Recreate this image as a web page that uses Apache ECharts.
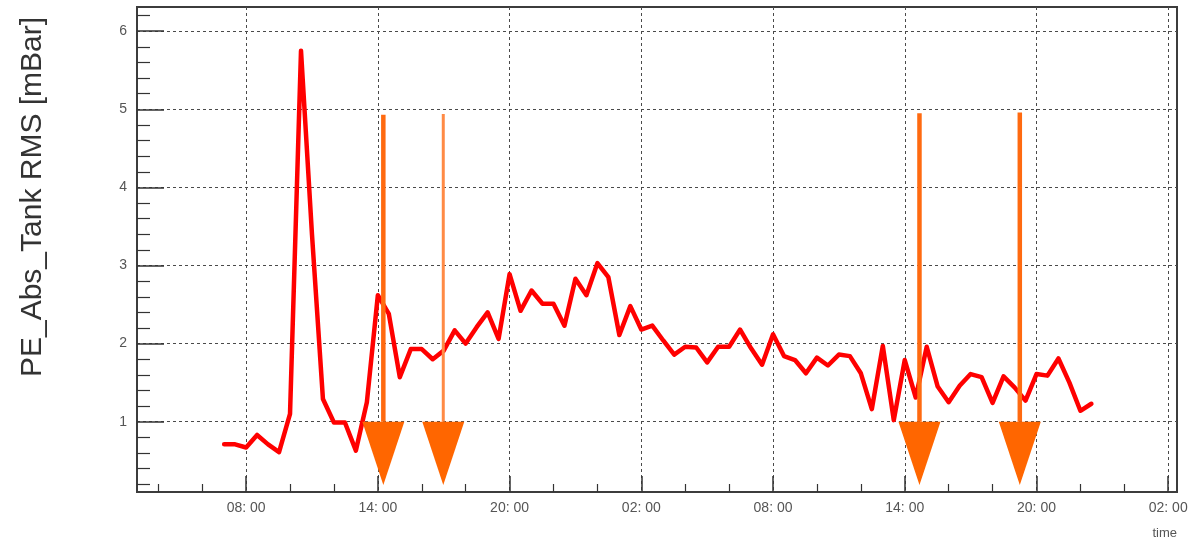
<!DOCTYPE html>
<html>
<head>
<meta charset="utf-8">
<script src="https://cdn.jsdelivr.net/npm/echarts@6/dist/echarts.min.js"></script>
<style>
html,body{margin:0;padding:0;background:#fff;}
#chart{width:1195px;height:546px;}
</style>
</head>
<body>
<div id="chart"></div>
<script>
// ---- data (hours since 00:00 of first day) ----
const timeHours = [
  7.0, 7.5, 8.0, 8.5, 9.0, 9.5, 10.0, 10.5, 11.0, 11.5,
  12.0, 12.5, 13.0, 13.5, 14.0, 14.5, 15.0, 15.5, 16.0, 16.5,
  17.0, 17.5, 18.0, 18.5, 19.0, 19.5, 20.0, 20.5, 21.0, 21.5,
  22.0, 22.5, 23.0, 23.5, 24.0, 24.5, 25.0, 25.5, 26.0, 26.5,
  27.0, 27.5, 28.0, 28.5, 29.0, 29.5, 30.0, 30.5, 31.0, 31.5,
  32.0, 32.5, 33.0, 33.5, 34.0, 34.5, 35.0, 35.5, 36.0, 36.5,
  37.0, 37.5, 38.0, 38.5, 39.0, 39.5, 40.0, 40.5, 41.0, 41.5,
  42.0, 42.5, 43.0, 43.5, 44.0, 44.5, 45.0, 45.5, 46.0, 46.5
];
const rmsValues = [
  0.71, 0.71, 0.67, 0.83, 0.71, 0.61, 1.10, 5.75, 3.40, 1.29,
  0.99, 0.99, 0.63, 1.25, 2.62, 2.38, 1.57, 1.93, 1.93, 1.80,
  1.91, 2.17, 2.00, 2.21, 2.40, 2.06, 2.89, 2.42, 2.68, 2.51,
  2.51, 2.23, 2.83, 2.62, 3.03, 2.85, 2.11, 2.48, 2.18, 2.23,
  2.04, 1.86, 1.96, 1.95, 1.76, 1.96, 1.96, 2.18, 1.94, 1.73,
  2.12, 1.84, 1.79, 1.62, 1.82, 1.72, 1.86, 1.84, 1.62, 1.16,
  1.97, 1.02, 1.79, 1.31, 1.96, 1.45, 1.25, 1.46, 1.61, 1.57,
  1.24, 1.58, 1.44, 1.27, 1.61, 1.59, 1.81, 1.50, 1.14, 1.23
];
// arrows: time, top of stem, base of head, tip of head
const arrowHours = [14.25, 16.98, 38.67, 43.24];
const arrowTop   = [4.93, 4.94, 4.95, 4.96];
const arrowBase  = [1.0, 1.0, 1.0, 1.0];
const arrowTip   = [0.19, 0.19, 0.19, 0.19];

const xMajorHours  = [8, 14, 20, 26, 32, 38, 44, 50];
const xMajorLabels = ['08: 00', '14: 00', '20: 00', '02: 00', '08: 00', '14: 00', '20: 00', '02: 00'];
const xMinorHours  = [4, 6, 10, 12, 16, 18, 22, 24, 28, 30, 34, 36, 40, 42, 46, 48];
const yMajor       = [1, 2, 3, 4, 5, 6];
const yMajorLabels = ['1', '2', '3', '4', '5', '6'];
const yMinor       = [0.2, 0.4, 0.6, 0.8, 1.2, 1.4, 1.6, 1.8, 2.2, 2.4, 2.6, 2.8,
                      3.2, 3.4, 3.6, 3.8, 4.2, 4.4, 4.6, 4.8, 5.2, 5.4, 5.6, 5.8, 6.2];

const yTitle = 'PE_Abs_Tank RMS [mBar]';
const xTitle = 'time';

const X_MIN = 3.03, X_MAX = 50.4, Y_MIN = 0.1, Y_MAX = 6.31;

const chart = echarts.init(document.getElementById('chart'), null, {renderer: 'canvas'});
const font = 'Liberation Sans, Arial, sans-serif';
const gridLine = {show: true, lineStyle: {color: '#4a4a4a', width: 1, type: [3, 3]}};

const option = {
  animation: false,
  backgroundColor: '#fff',
  grid: {left: 137, right: 18, top: 7, bottom: 54, show: true, borderColor: '#3c3c3c', borderWidth: 2, backgroundColor: 'transparent'},
  xAxis: [
    {
      type: 'value', min: X_MIN, max: X_MAX, position: 'bottom',
      axisLine: {show: false},
      axisTick: {show: true, inside: true, length: 16, customValues: xMajorHours, lineStyle: {color: '#333', width: 1.5}},
      axisLabel: {show: true, customValues: xMajorHours, margin: 9, color: '#555', fontSize: 14, fontFamily: font,
        formatter: function (v) { const i = xMajorHours.indexOf(v); return i >= 0 ? xMajorLabels[i] : ''; }},
      splitLine: gridLine
    },
    {
      type: 'value', min: X_MIN, max: X_MAX, position: 'bottom',
      axisLine: {show: false},
      axisTick: {show: true, inside: true, length: 8, customValues: xMinorHours, lineStyle: {color: '#333', width: 1.2}},
      axisLabel: {show: false},
      splitLine: {show: false}
    }
  ],
  yAxis: [
    {
      type: 'value', min: Y_MIN, max: Y_MAX, position: 'left',
      axisLine: {show: false},
      axisTick: {show: true, inside: true, length: 27, customValues: yMajor, lineStyle: {color: '#333', width: 1.5}},
      axisLabel: {show: true, customValues: yMajor, margin: 10, color: '#555', fontSize: 14, fontFamily: font,
        formatter: function (v) { const i = yMajor.indexOf(v); return i >= 0 ? yMajorLabels[i] : ''; }},
      splitLine: gridLine
    },
    {
      type: 'value', min: Y_MIN, max: Y_MAX, position: 'left',
      axisLine: {show: false},
      axisTick: {show: true, inside: true, length: 13, customValues: yMinor, lineStyle: {color: '#333', width: 1.2}},
      axisLabel: {show: false},
      splitLine: {show: false}
    }
  ],
  graphic: [
    {type: 'text', x: 33, y: 197, rotation: Math.PI / 2,
      style: {text: yTitle, textAlign: 'center', textVerticalAlign: 'middle', fill: '#333', font: '30px ' + font}},
    {type: 'text', x: 1177, y: 533,
      style: {text: xTitle, textAlign: 'right', textVerticalAlign: 'middle', fill: '#555', font: '13px ' + font}}
  ],
  series: [
    {
      type: 'line', xAxisIndex: 0, yAxisIndex: 0, showSymbol: false, z: 3,
      data: timeHours.map((t, i) => [t, rmsValues[i]]),
      lineStyle: {color: '#ff0000', width: 4.5, join: 'round', cap: 'round'}
    },
    {
      type: 'custom', xAxisIndex: 0, yAxisIndex: 0, z: 5,
      data: arrowHours.map((t, i) => [t, arrowTop[i], arrowBase[i], arrowTip[i]]),
      renderItem: function (params, api) {
        const x = api.value(0);
        const pTop = api.coord([x, api.value(1)]);
        const pBase = api.coord([x, api.value(2)]);
        const pTip = api.coord([x, api.value(3)]);
        const thin = params.dataIndex === 1;
        const hw = 21;
        return {
          type: 'group',
          children: [
            {type: 'line', shape: {x1: pTop[0], y1: pTop[1], x2: pBase[0], y2: pBase[1]},
              style: {stroke: thin ? '#ff8a45' : '#ff6a10', lineWidth: thin ? 3 : 4.5}},
            {type: 'polygon', shape: {points: [[pBase[0] - hw, pBase[1]], [pBase[0] + hw, pBase[1]], [pTip[0], pTip[1]]]},
              style: {fill: '#ff6600'}}
          ]
        };
      }
    }
  ]
};
chart.setOption(option);
</script>
</body>
</html>
